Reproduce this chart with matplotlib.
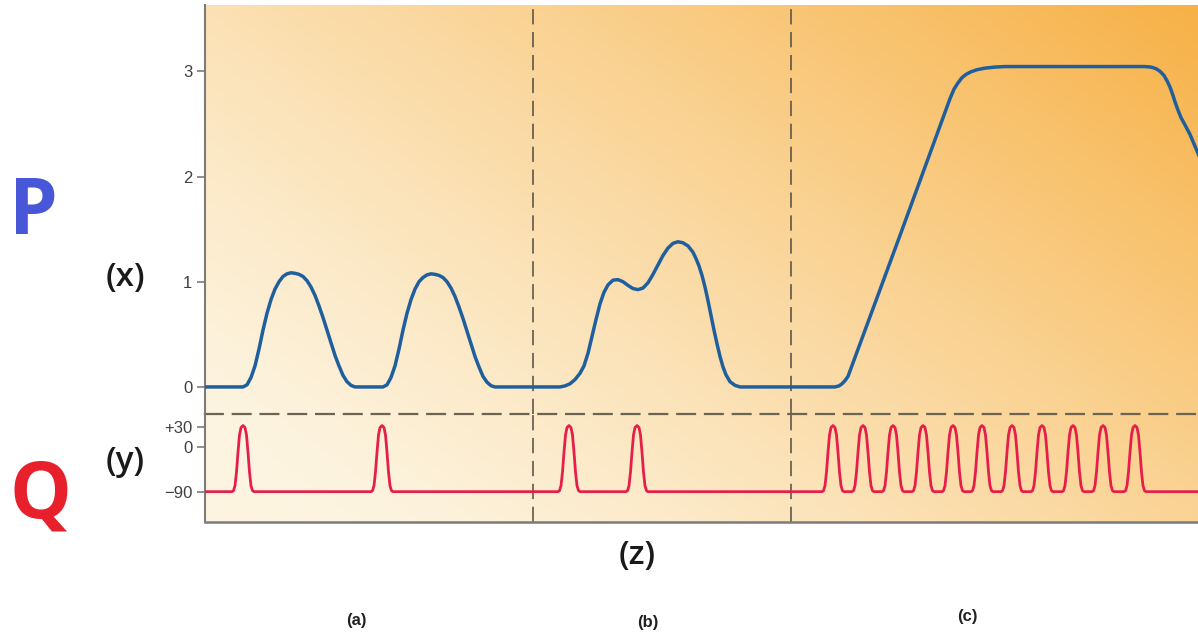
import numpy as np
import matplotlib
matplotlib.use("Agg")
import matplotlib.pyplot as plt

# ---- data (z in px-like units from the left axis) ----
p_z = [0, 38, 42, 46, 50, 54, 58, 62, 66, 70, 74, 78, 82, 86, 90, 94, 98, 102, 106,
       110, 114, 118, 122, 126, 130, 134, 138, 142, 146, 150,
       178, 182, 186, 190, 194, 198, 202, 206, 210, 214, 218, 222, 226, 230, 234, 238,
       242, 246, 250, 254, 258, 262, 266, 270, 274, 278, 282, 286, 290,
       355, 360, 365, 370, 375, 379, 383, 387, 391, 395, 399, 403, 408, 413, 418, 423,
       428, 433, 438, 443, 448, 453, 458, 463, 468, 473, 478, 483, 488, 491, 494, 497,
       500, 503, 506, 509, 512, 515, 518, 521, 525, 530, 535,
       630, 634, 637, 640, 643, 695, 745, 749, 753, 757, 761, 766, 772, 780, 790, 800,
       940, 946, 951, 955, 959, 962, 965, 968, 970, 973, 976, 980, 985, 993, 1001]
p_val = [0.00, 0.00, 0.02, 0.09, 0.20, 0.36, 0.54, 0.70, 0.83, 0.93, 1.00, 1.05, 1.075,
         1.085, 1.08, 1.07, 1.05, 1.01, 0.95, 0.87, 0.77, 0.66, 0.54, 0.42, 0.30, 0.20,
         0.11, 0.05, 0.015, 0.00,
         0.00, 0.02, 0.09, 0.20, 0.36, 0.54, 0.70, 0.83, 0.93, 1.00, 1.04, 1.065, 1.075,
         1.07, 1.06, 1.04, 1.00, 0.94, 0.86, 0.76, 0.65, 0.53, 0.41, 0.29, 0.19, 0.10,
         0.045, 0.012, 0.00,
         0.00, 0.01, 0.03, 0.07, 0.13, 0.20, 0.32, 0.48, 0.64, 0.79, 0.90, 0.97, 1.015,
         1.02, 1.00, 0.965, 0.935, 0.925, 0.94, 0.99, 1.07, 1.16, 1.25, 1.32, 1.365, 1.38,
         1.37, 1.34, 1.28, 1.22, 1.15, 1.06, 0.95, 0.82, 0.68, 0.54, 0.41, 0.29, 0.19,
         0.115, 0.05, 0.015, 0.00,
         0.00, 0.01, 0.03, 0.06, 0.10, 1.44, 2.74, 2.83, 2.89, 2.94, 2.97, 2.995, 3.015,
         3.03, 3.04, 3.045, 3.045, 3.04, 3.025, 3.00, 2.96, 2.91, 2.85, 2.77, 2.71,
         2.63, 2.56, 2.49, 2.40, 2.22, 2.04]

# spike times and the shape of one spike (offset, value)
q_spikes = [38, 177, 364, 432, 628, 658, 688, 718, 748, 777, 807, 837, 868, 898, 930]
spike_dz = [-11, -9.5, -8, -6.5, -5, -3.5, -2, 0, 2, 3.5, 5, 6.5, 8, 9.5, 11]
spike_v = [-90, -88, -78, -50, -10, 18, 29, 32, 29, 18, -10, -50, -78, -88, -90]
q_rest = -90

section_bounds = [328, 586]
section_labels = ["(a)", "(b)", "(c)"]
p_ticks = [0, 1, 2, 3]
q_ticks = [30, 0, -90]
q_ticklabels = ["+30", "0", "\u221290"]

# build the Q trace from the spike list
q_z = [0]
q_val = [q_rest]
for c in q_spikes:
    for dz, v in zip(spike_dz, spike_v):
        q_z.append(c + dz)
        q_val.append(v)
q_z.append(1010)
q_val.append(q_rest)

W, H = 1198, 637
fig = plt.figure(figsize=(W / 100, H / 100), dpi=100)
fig.patch.set_facecolor("white")

left = 205 / W
top_y, mid_y, bot_y = 5, 414.3, 521.7
f = lambda px: 1 - px / H

# gradient background behind both panels
bg = fig.add_axes([left, f(bot_y), 1 - left, f(top_y) - f(bot_y)], zorder=0)
u = np.linspace(0, 1, 300)
v = np.linspace(0, 1, 200)
U, V = np.meshgrid(u, v)
w = np.clip(0.64 * U + 0.45 * V - 0.1, 0, 1) ** 1.2
c0 = np.array([253, 244, 224]) / 255
c1 = np.array([247, 176, 68]) / 255
img = c0[None, None, :] * (1 - w[..., None]) + c1[None, None, :] * w[..., None]
bg.imshow(img, origin="lower", extent=[0, 1, 0, 1], aspect="auto")
bg.axis("off")

ax_p = fig.add_axes([left, f(mid_y), 1 - left, f(top_y) - f(mid_y)], zorder=2)
ax_q = fig.add_axes([left, f(bot_y), 1 - left, f(mid_y) - f(bot_y)], zorder=2)

spine_c = "#7b7b7b"
dash_c = "#6b6452"
for ax in (ax_p, ax_q):
    ax.set_facecolor("none")
    ax.set_xlim(0, W - 205)
    ax.set_xticks([])
    for s in ("top", "right"):
        ax.spines[s].set_visible(False)
    ax.spines["left"].set_color(spine_c)
    ax.spines["left"].set_linewidth(1.5)
    ax.tick_params(axis="y", direction="out", length=6, width=1.2, color=spine_c,
                   labelsize=12, labelcolor="#404040", pad=3)
    for b in section_bounds:
        ax.axvline(b, color="#514c40", lw=1.1, ls=(0, (10, 5)), zorder=1)

ax_p.set_ylim(-0.26, 3.63)
ax_p.set_yticks(p_ticks)
ax_p.set_yticklabels([str(t) for t in p_ticks], family="Liberation Sans")
ax_p.spines["bottom"].set_color(dash_c)
ax_p.spines["bottom"].set_linewidth(1.6)
ax_p.spines["bottom"].set_linestyle((0, (8, 4.5)))
ax_p.plot(p_z, p_val, color="#1f5f9e", lw=2.5, solid_joinstyle="round",
          solid_capstyle="round", zorder=3)


# the Q axis is drawn with a different spacing above and below zero
def q_fwd(y):
    y = np.asarray(y, dtype=float)
    return np.where(y >= 0, y * 0.68, y * 0.493)


def q_inv(y):
    y = np.asarray(y, dtype=float)
    return np.where(y >= 0, y / 0.68, y / 0.493)


ax_q.set_yscale("function", functions=(q_fwd, q_inv))
ax_q.set_ylim(-150.9, 48.5)
ax_q.set_yticks(q_ticks)
ax_q.set_yticklabels(q_ticklabels, family="Liberation Sans")
ax_q.yaxis.set_minor_locator(matplotlib.ticker.NullLocator())
ax_q.spines["bottom"].set_color(spine_c)
ax_q.spines["bottom"].set_linewidth(1.8)
ax_q.plot(q_z, q_val, color="#e51f4a", lw=2.0, solid_joinstyle="round", zorder=3)

# side and bottom labels
fig.text(33 / W, f(213), "P", color="#4757d8", fontsize=56, fontweight="bold",
         family="Open Sans", ha="center", va="center")
fig.text(40 / W, f(497), "Q", color="#e8202c", fontsize=56, fontweight="bold",
         family="Open Sans", ha="center", va="center")
fig.text(125 / W, f(278), "(x)", color="#1a1a1a", fontsize=24, family="Open Sans",
         fontweight="semibold", ha="center", va="center")
fig.text(125 / W, f(462), "(y)", color="#1a1a1a", fontsize=24, family="Open Sans",
         fontweight="semibold", ha="center", va="center")
fig.text(637 / W, f(555), "(z)", color="#1a1a1a", fontsize=24, family="Open Sans",
         fontweight="semibold", ha="center", va="center")
for lbl, (px, py) in zip(section_labels, [(356, 620), (648, 623), (967, 616)]):
    fig.text(px / W, f(py), lbl, color="#222222", fontsize=12, fontweight="bold",
             family="Liberation Sans", ha="center", va="center")

fig.savefig("out.png", dpi=100, facecolor="white")
